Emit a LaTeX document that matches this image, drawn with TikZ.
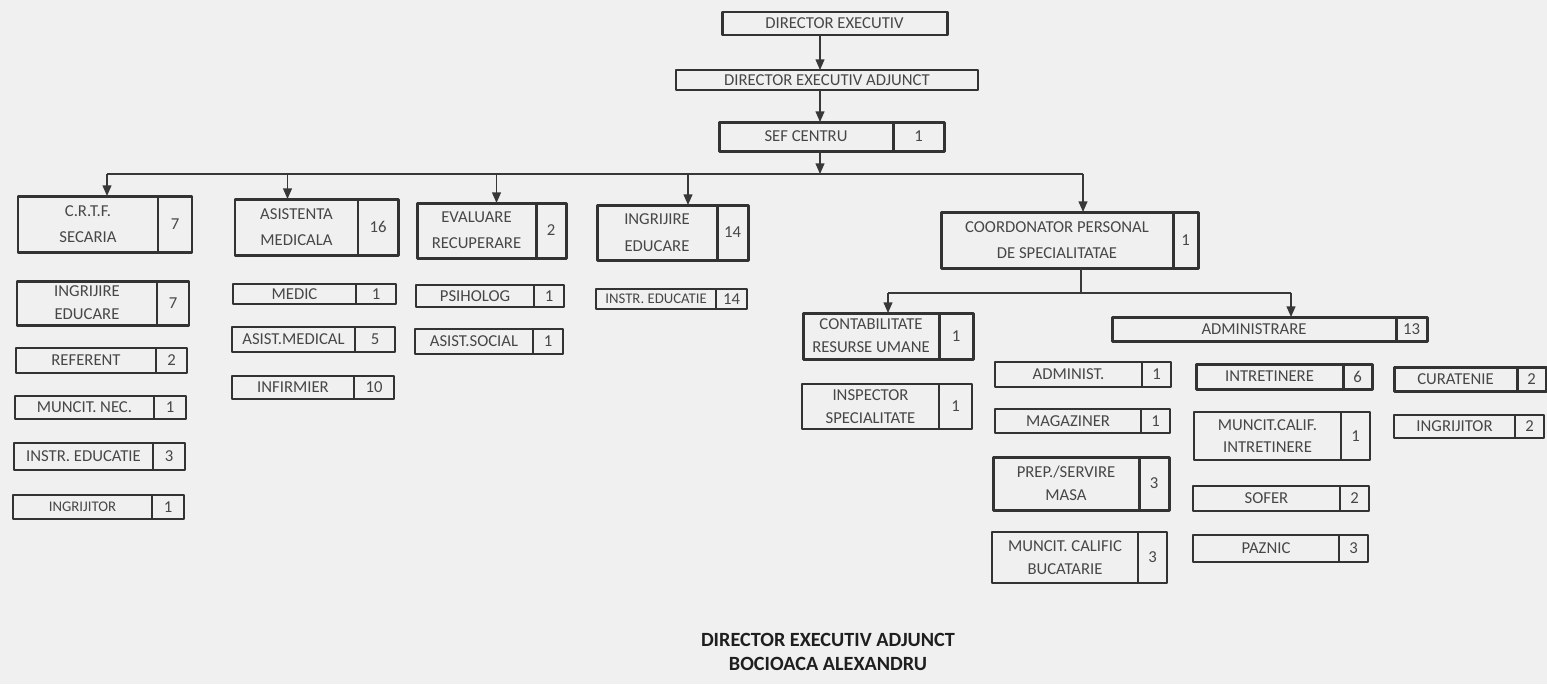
\documentclass[tikz,border=0pt]{standalone}
\usepackage{fontspec}
\setmainfont{Carlito}
\usetikzlibrary{arrows.meta}
\newcommand{\pxu}{0.02cm}
\newcommand{\smalltxt}{\fontsize{8.4}{10}\selectfont}
\tikzset{
	cellthin/.style={draw=black!80,line width=0.8pt,outer sep=0pt,inner sep=0pt,text=black!72,align=center,font=\fontsize{9.5}{13}\selectfont},
	cellthick/.style={cellthin,line width=1.7pt},
	link/.style={draw=black!78,line width=0.8pt},
}
% name, style, x1, y1, divider, x2, y2, text, count
\newcommand{\orgbox}[9]{%
	\node[#2,anchor=north west,minimum width={(#5-#3)*\pxu},minimum height={(#7-#4)*\pxu}] (#1) at (#3,#4) {#8};
	\node[#2,anchor=north west,minimum width={(#6-#5)*\pxu},minimum height={(#7-#4)*\pxu}] (#1-n) at (#1.north east) {#9};}
\begin{document}
\begin{tikzpicture}[x=0.02cm,y=-0.02cm,>={Triangle[length=6pt,width=5pt]},line join=round]
	\useasboundingbox (0,0) rectangle (1547,684);
	\fill[black!6] (0,0) rectangle (1547,684);
	% top of the chart
	\node[cellthick,anchor=north west,minimum width={225*\pxu},minimum height={23*\pxu}] (de) at (722,12) {DIRECTOR EXECUTIV};
	\node[cellthin,anchor=north west,minimum width={302*\pxu},minimum height={20*\pxu}] (dea) at (676,70) {DIRECTOR EXECUTIV ADJUNCT};
	\orgbox{sef}{cellthick}{719}{122}{893}{944}{151}{SEF CENTRU}{1}
	% services
	\orgbox{crtf}{cellthick}{18}{196}{158}{192}{252}{C.R.T.F.\\[2pt]SECARIA}{7}
	\orgbox{am}{cellthick}{235}{199}{358}{398}{255}{ASISTENTA\\[2pt]MEDICALA}{16}
	\orgbox{er}{cellthick}{417}{203}{536}{566}{258}{EVALUARE\\[2pt]RECUPERARE}{2}
	\orgbox{ie}{cellthick}{597}{205}{717}{748}{260}{INGRIJIRE\\[2pt]EDUCARE}{14}
	\orgbox{cps}{cellthick}{941}{212}{1173}{1198}{268}{COORDONATOR PERSONAL\\[2pt]DE SPECIALITATAE}{1}
	% C.R.T.F.
	\orgbox{crtf-ie}{cellthick}{17}{281}{157}{189}{325}{INGRIJIRE\\EDUCARE}{7}
	\orgbox{ref}{cellthin}{16}{348}{156}{187}{373}{REFERENT}{2}
	\orgbox{mn}{cellthin}{15}{396}{154}{186}{419}{MUNCIT. NEC.}{1}
	\orgbox{instra}{cellthin}{14}{443}{153}{185}{470}{INSTR. EDUCATIE}{3}
	\orgbox{ingra}{cellthin}{13}{495}{152}{184}{519}{\smalltxt INGRIJITOR}{1}
	% asistenta medicala
	\orgbox{medic}{cellthin}{233}{284}{356}{396}{304}{MEDIC}{1}
	\orgbox{asmed}{cellthin}{232}{327}{355}{395}{352}{ASIST.MEDICAL}{5}
	\orgbox{infirm}{cellthin}{232}{376}{354}{394}{399}{INFIRMIER}{10}
	% evaluare recuperare
	\orgbox{psih}{cellthin}{416}{285}{534}{564}{307}{PSIHOLOG}{1}
	\orgbox{asoc}{cellthin}{415}{329}{533}{563}{354}{ASIST.SOCIAL}{1}
	% ingrijire educare
	\orgbox{instrb}{cellthin}{596}{289}{716}{747}{309}{\smalltxt INSTR. EDUCATIE}{14}
	% coordonator
	\orgbox{cru}{cellthick}{803}{313}{939}{973}{359}{CONTABILITATE\\RESURSE UMANE}{1}
	\orgbox{insp}{cellthin}{802}{384}{939}{972}{429}{INSPECTOR\\SPECIALITATE}{1}
	\orgbox{adm}{cellthick}{1112}{317}{1396}{1427}{341}{ADMINISTRARE}{13}
	% administrare
	\orgbox{admt}{cellthin}{995}{362}{1142}{1171}{387}{ADMINIST.}{1}
	\orgbox{mag}{cellthin}{995}{409}{1141}{1170}{433}{MAGAZINER}{1}
	\orgbox{prep}{cellthick}{993}{457}{1139}{1169}{510}{PREP./SERVIRE\\MASA}{3}
	\orgbox{mcb}{cellthin}{992}{532}{1138}{1167}{583}{MUNCIT. CALIFIC\\BUCATARIE}{3}
	\orgbox{intr}{cellthick}{1196}{364}{1343}{1372}{389}{INTRETINERE}{6}
	\orgbox{mci}{cellthin}{1194}{412}{1341}{1370}{460}{MUNCIT.CALIF.\\INTRETINERE}{1}
	\orgbox{sofer}{cellthin}{1193}{486}{1340}{1369}{511}{SOFER}{2}
	\orgbox{paz}{cellthin}{1193}{535}{1339}{1368}{562}{PAZNIC}{3}
	\orgbox{cur}{cellthick}{1394}{367}{1517}{1546}{391}{CURATENIE}{2}
	\orgbox{ingrb}{cellthin}{1394}{415}{1515}{1544}{438}{INGRIJITOR}{2}
	% links
	\coordinate (spine) at ([xshift=14*\pxu]sef.south);
	\coordinate (bus) at ([yshift=-23*\pxu]spine);
	\draw[link,->] (de.south -| spine)--(dea.north -| spine);
	\draw[link,->] (dea.south -| spine)--(sef.north -| spine);
	\draw[link,->] (spine)--(bus);
	\foreach \n/\dx in {crtf/19,am/-9,er/20,ie/31,cps/26}{
		\coordinate (\n-in) at ([xshift=\dx*\pxu]\n.north);
		\draw[link,->] (\n-in |- bus)--(\n-in);
	}
	\draw[link] (crtf-in |- bus)--(cps-in |- bus);
	\coordinate (cps-out) at ([xshift=24*\pxu]cps.south);
	\coordinate (bus2) at ([yshift=-25*\pxu]cps-out);
	\draw[link] (cps-out)--(bus2);
	\foreach \n/\dx in {cru/17,adm/37}{
		\coordinate (\n-in) at ([xshift=\dx*\pxu]\n.north);
		\draw[link,->] (\n-in |- bus2)--(\n-in);
	}
	\draw[link] (cru-in |- bus2)--(adm-in |- bus2);
	\node[font=\fontsize{11.5}{13.2}\selectfont\bfseries,align=center,text=black!88] (sign) at (828,652) {DIRECTOR EXECUTIV ADJUNCT\\BOCIOACA ALEXANDRU};
\end{tikzpicture}
\end{document}
